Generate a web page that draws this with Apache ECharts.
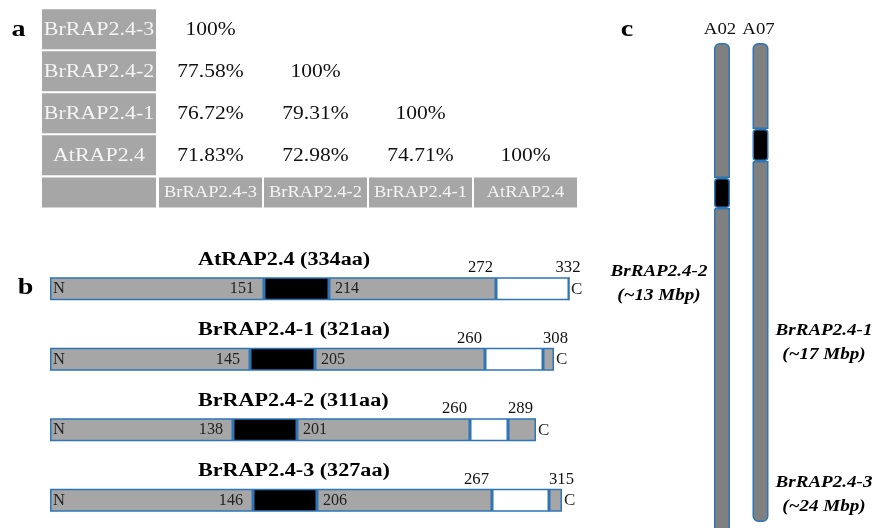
<!DOCTYPE html>
<html>
<head>
<meta charset="utf-8">
<script src="https://cdn.jsdelivr.net/npm/echarts/dist/echarts.min.js"></script>
<style>
html,body{margin:0;padding:0;background:#fff;}
#chart{width:877px;height:528px;}
</style>
</head>
<body>
<div id="chart"></div>
<script>
// ---------- data ----------
// (a) sequence identity table
const rowLabels = ['BrRAP2.4-3', 'BrRAP2.4-2', 'BrRAP2.4-1', 'AtRAP2.4'];
const colLabels = ['BrRAP2.4-3', 'BrRAP2.4-2', 'BrRAP2.4-1', 'AtRAP2.4'];
const identity = [
  [100],
  [77.58, 100],
  [76.72, 79.31, 100],
  [71.83, 72.98, 74.71, 100]
];
// (b) protein structures
const proteins = ['AtRAP2.4', 'BrRAP2.4-1', 'BrRAP2.4-2', 'BrRAP2.4-3'];
const proteinLength = [334, 321, 311, 327];
const domainStart = [151, 145, 138, 146];
const domainEnd = [214, 205, 201, 206];
const motifStart = [272, 260, 260, 267];
const motifEnd = [332, 308, 289, 315];
// schematic (drawn) segment lengths
const segNterm = [214, 200, 183, 203];
const segDomain = [65, 65, 64, 64];
const segMiddle = [167, 170, 173, 175];
const segMotif = [73, 58, 38, 57];
const segCterm = [0, 11, 28, 13];
// (c) chromosome locations (schematic drawn lengths)
const chromosomes = ['A02', 'A07'];
const chrTopArm = [135, 86];
const chrBand = [30, 32];
const chrBottomArm = [340, 361];
const geneNames = ['BrRAP2.4-2', 'BrRAP2.4-1', 'BrRAP2.4-3'];
const genePositions = ['(~13 Mbp)', '(~17 Mbp)', '(~24 Mbp)'];

// ---------- helpers ----------
const FONT = '"Liberation Serif", "Times New Roman", serif';
const S = 1.17;
const BLUE = '#2e75b6';
function T(x, y, text, size, o) {
  o = o || {};
  const align = o.align || 'center';
  const va = o.va || 'middle';
  return {
    type: 'text', x: x, y: y, scaleX: o.sx || S, silent: true, z2: 10,
    style: {
      text: String(text), x: 0, y: 0,
      font: (o.style || 'normal') + ' ' + (o.weight || 'normal') + ' ' + size + 'px ' + FONT,
      fill: o.color || '#000',
      align: align, verticalAlign: va, textAlign: align, textVerticalAlign: va
    }
  };
}
function fmt(v) { return v === 100 ? '100%' : v.toFixed(2) + '%'; }

function cellSeries(gi, items, fill, color, size, dy) {
  return {
    type: 'custom', xAxisIndex: gi, yAxisIndex: gi, z: 3,
    data: items.map(d => [d[0], d[1]]),
    encode: { x: 0, y: 1 },
    renderItem: function (params, api) {
      const it = items[params.dataIndex];
      const c = api.coord([it[0], it[1]]);
      const s = api.size([1, 1]);
      const ch = [];
      if (fill) ch.push({ type: 'rect', shape: { x: c[0] - s[0] / 2 + 1, y: c[1] - s[1] / 2 + 1, width: s[0] - 2, height: s[1] - 2 }, style: { fill: fill } });
      if (it[2]) ch.push(T(c[0], c[1] + dy, it[2], size, { color: color }));
      return { type: 'group', children: ch };
    }
  };
}

const rowItems = rowLabels.map((l, i) => [0, i, l]);
const bodyItems = [];
identity.forEach((row, i) => row.forEach((v, j) => bodyItems.push([j, i, fmt(v)])));
const cornerItems = [[0, 0, '']];
const headItems = colLabels.map((l, j) => [j, 0, l]);

// ---------- chart ----------
const chart = echarts.init(document.getElementById('chart'), null, { renderer: 'canvas' });
const GRAY = '#a6a6a6';

function protBar(name, vals, color) {
  return {
    type: 'bar', name: name, xAxisIndex: 4, yAxisIndex: 4, stack: 'prot', barWidth: 23,
    data: vals, silent: true,
    itemStyle: { color: color, borderColor: BLUE, borderWidth: 1.5 }
  };
}
function chrBar(name, vals, color, radius) {
  return {
    type: 'bar', name: name, xAxisIndex: 5, yAxisIndex: 5, stack: 'chr', barWidth: 16,
    data: vals, silent: true,
    itemStyle: { color: color, borderColor: BLUE, borderWidth: 1.5, borderRadius: radius }
  };
}

const option = {
  animation: false,
  backgroundColor: '#fff',
  grid: [
    { left: 41, top: 8.3, width: 116, height: 168, outerBoundsMode: 'none' },
    { left: 158, top: 8.3, width: 420, height: 168, outerBoundsMode: 'none' },
    { left: 41, top: 176.6, width: 116, height: 32, outerBoundsMode: 'none' },
    { left: 158, top: 176.6, width: 420, height: 32, outerBoundsMode: 'none' },
    { left: 50, top: 253.4, width: 530, height: 282, outerBoundsMode: 'none' },
    { left: 702.75, top: 43, width: 77, height: 500, outerBoundsMode: 'none' }
  ],
  xAxis: [
    { gridIndex: 0, type: 'category', data: ['label'], show: false },
    { gridIndex: 1, type: 'category', data: colLabels, show: false },
    { gridIndex: 2, type: 'category', data: ['corner'], show: false },
    { gridIndex: 3, type: 'category', data: colLabels, show: false },
    { gridIndex: 4, type: 'value', min: 0, max: 530, show: false },
    { gridIndex: 5, type: 'category', data: chromosomes, show: false }
  ],
  yAxis: [
    { gridIndex: 0, type: 'category', data: rowLabels, inverse: true, show: false },
    { gridIndex: 1, type: 'category', data: rowLabels, inverse: true, show: false },
    { gridIndex: 2, type: 'category', data: ['head'], show: false },
    { gridIndex: 3, type: 'category', data: ['head'], show: false },
    { gridIndex: 4, type: 'category', data: proteins, inverse: true, show: false },
    { gridIndex: 5, type: 'value', min: 0, max: 500, inverse: true, show: false }
  ],
  graphic: [
    T(18.5, 29.5, 'a', 24, { weight: 'bold' }),
    T(25.5, 288, 'b', 24, { weight: 'bold' }),
    T(627, 30, 'c', 24, { weight: 'bold' }),
    T(659, 271.5, geneNames[0], 16.3, { weight: 'bold', style: 'italic' }),
    T(659, 295.5, genePositions[0], 16.3, { weight: 'bold', style: 'italic' }),
    T(824, 331, geneNames[1], 16.3, { weight: 'bold', style: 'italic' }),
    T(824, 355, genePositions[1], 16.3, { weight: 'bold', style: 'italic' }),
    T(824, 483, geneNames[2], 16.3, { weight: 'bold', style: 'italic' }),
    T(824, 507, genePositions[2], 16.3, { weight: 'bold', style: 'italic' })
  ],
  series: [
    cellSeries(0, rowItems, GRAY, '#f4f4f4', 18.8, 1),
    cellSeries(1, bodyItems, null, '#111', 18.4, 1),
    cellSeries(2, cornerItems, GRAY, '#fff', 15.8, 0),
    cellSeries(3, headItems, GRAY, '#f4f4f4', 15.8, 0),
    protBar('N-terminal', segNterm, GRAY),
    protBar('AP2 domain', segDomain, '#000'),
    protBar('Middle', segMiddle, GRAY),
    protBar('Motif', segMotif, '#fff'),
    protBar('C-terminal', segCterm, GRAY),
    {
      type: 'custom', xAxisIndex: 4, yAxisIndex: 4, z: 5,
      data: proteins.map((p, i) => [0, i]),
      encode: { x: 0, y: 1 },
      renderItem: function (params, api) {
        const i = params.dataIndex;
        const b1 = segNterm[i], b2 = b1 + segDomain[i], b3 = b2 + segMiddle[i],
              b4 = b3 + segMotif[i], b5 = b4 + segCterm[i];
        const X = v => api.coord([v, i])[0];
        const yc = api.coord([0, i])[1];
        const num = { sx: 1.04 };
        const ch = [
          T(X(148), yc - 28.5, proteins[i] + ' (' + proteinLength[i] + 'aa)', 18, { weight: 'bold', align: 'left', sx: 1.23 }),
          T(X(0) + 3, yc + 0.5, 'N', 16.5, { align: 'left', color: '#222', sx: 1 }),
          T(X(b1) - 10, yc + 0.5, domainStart[i], 15.8, { align: 'right', color: '#222', sx: 1.02 }),
          T(X(b2) + 6, yc + 0.5, domainEnd[i], 15.8, { align: 'left', color: '#222', sx: 1.02 }),
          T(X(b3) - 3, yc - 20.5, motifStart[i], 16, { align: 'right', color: '#111', sx: 1.04 }),
          segCterm[i] === 0
            ? T(X(b4) - 1, yc - 20.5, motifEnd[i], 16, { align: 'center', color: '#111', sx: 1.04 })
            : T(X(b4), yc - 20.5, motifEnd[i], 16, { align: 'left', color: '#111', sx: 1.04 }),
          T(X(b5) + 2, yc + 0.5, 'C', 17, { align: 'left', color: '#222', sx: 1 })
        ];
        return { type: 'group', children: ch };
      }
    },
    chrBar('Top arm', chrTopArm, '#808080', [5, 5, 0, 0]),
    chrBar('Gene band', chrBand, '#000', 3),
    chrBar('Bottom arm', chrBottomArm, '#808080', [0, 0, 5, 5]),
    {
      type: 'custom', xAxisIndex: 5, yAxisIndex: 5, z: 5,
      data: chromosomes.map((c, i) => [i, 0]),
      encode: { x: 0, y: 1 },
      renderItem: function (params, api) {
        const i = params.dataIndex;
        const p = api.coord([i, 0]);
        return T(p[0] - 2, p[1] - 13.5, chromosomes[i], 16.8, { color: '#111', sx: 1.12 });
      }
    }
  ]
};
chart.setOption(option);
</script>
</body>
</html>
